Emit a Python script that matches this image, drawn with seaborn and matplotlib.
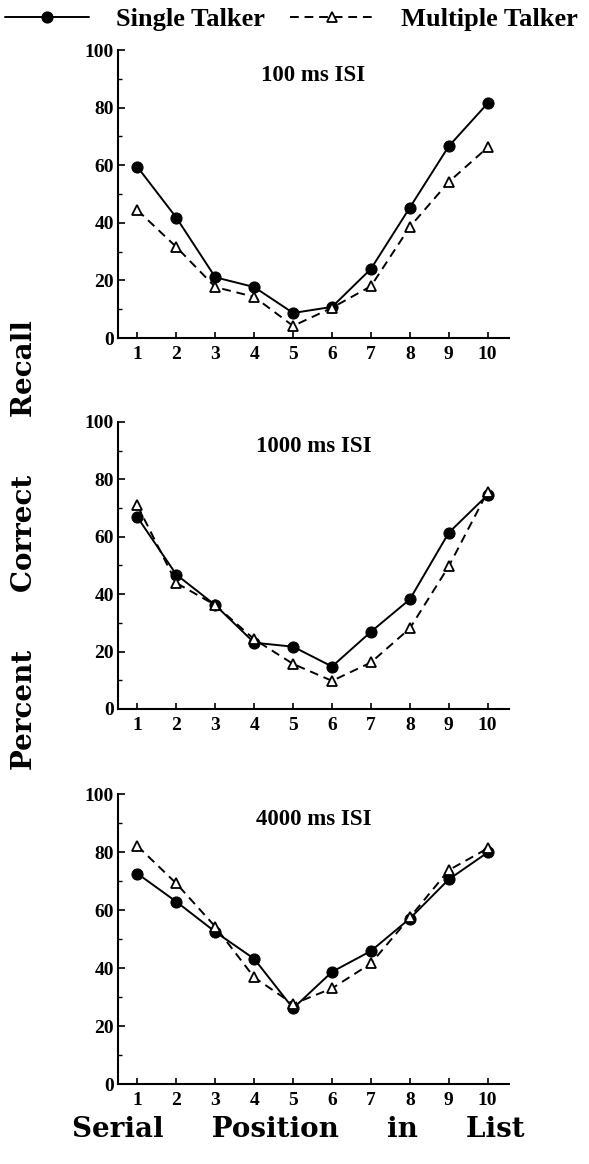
import matplotlib
matplotlib.use("Agg")
import matplotlib.pyplot as plt
import seaborn as sns
import pandas as pd
from matplotlib.ticker import MultipleLocator

# --- Data ---
POSITIONS = [1, 2, 3, 4, 5, 6, 7, 8, 9, 10]
PANEL_TITLES = ['100 ms ISI', '1000 ms ISI', '4000 ms ISI']

single_100 = [59.4, 41.8, 21.1, 17.7, 8.7, 10.8, 24.0, 45.3, 66.6, 81.5]
multi_100 = [44.4, 31.6, 17.7, 14.3, 4.2, 10.5, 18.0, 38.6, 54.2, 66.2]

single_1000 = [66.8, 46.8, 36.2, 23.1, 21.7, 14.8, 26.9, 38.2, 61.4, 74.6]
multi_1000 = [70.9, 43.9, 36.2, 24.3, 15.7, 9.8, 16.2, 28.1, 49.7, 75.7]

single_4000 = [72.6, 62.9, 52.5, 43.2, 26.1, 38.7, 45.9, 57.1, 70.6, 79.9]
multi_4000 = [82.1, 69.2, 54.3, 36.8, 27.6, 33.0, 41.6, 57.5, 73.8, 81.3]

SINGLE = [single_100, single_1000, single_4000]
MULTI = [multi_100, multi_1000, multi_4000]

# --- Style ---
sns.set_theme(style="ticks")
plt.rcParams['font.family'] = ['Liberation Serif', 'DejaVu Serif']
plt.rcParams['font.weight'] = 'bold'
plt.rcParams['text.color'] = 'black'
plt.rcParams['xtick.color'] = 'black'
plt.rcParams['ytick.color'] = 'black'
plt.rcParams['axes.labelcolor'] = 'black'

fig = plt.figure(figsize=(5.89, 11.64), dpi=100)

# axes boxes [left, bottom, width, height] in figure fractions
boxes = [
    [0.2003, 0.7096, 0.664, 0.2474],
    [0.2003, 0.3909, 0.664, 0.2466],
    [0.2003, 0.0687, 0.664, 0.2490],
]

axes = []
for i, box in enumerate(boxes):
    ax = fig.add_axes(box)
    df_s = pd.DataFrame({'pos': POSITIONS, 'recall': SINGLE[i]})
    df_m = pd.DataFrame({'pos': POSITIONS, 'recall': MULTI[i]})

    sns.lineplot(data=df_s, x='pos', y='recall', ax=ax, color='black',
                 linewidth=1.4, marker='o', markersize=8,
                 markerfacecolor='black', markeredgecolor='black',
                 errorbar=None, label='Single Talker', zorder=3)
    sns.lineplot(data=df_m, x='pos', y='recall', ax=ax, color='black',
                 linewidth=1.4, linestyle=(0, (4.5, 3)), marker='^', markersize=7.5,
                 markerfacecolor='white', markeredgecolor='black',
                 markeredgewidth=1.3, errorbar=None,
                 label='Multiple Talker', zorder=4)

    ax.set_xlim(0.5, 10.55)
    ax.set_ylim(0, 100)
    ax.set_xticks(POSITIONS)
    ax.set_yticks([0, 20, 40, 60, 80, 100])
    ax.yaxis.set_minor_locator(MultipleLocator(10))
    ax.tick_params(axis='both', which='major', direction='in', labelsize=14,
                   width=1.2, color='black', labelcolor='black')
    ax.tick_params(axis='y', which='major', length=5, pad=3)
    ax.tick_params(axis='y', which='minor', direction='in', length=3, width=1)
    ax.tick_params(axis='x', which='major', length=4, pad=6)
    for lab in ax.get_xticklabels() + ax.get_yticklabels():
        lab.set_fontweight('bold')
    sns.despine(ax=ax)
    for sp in ['left', 'bottom']:
        ax.spines[sp].set_linewidth(1.5)
        ax.spines[sp].set_color('black')
    ax.set_xlabel('')
    ax.set_ylabel('')
    ax.set_facecolor('white')
    ax.text(0.5, 0.913, PANEL_TITLES[i], transform=ax.transAxes,
            ha='center', va='center', fontsize=16.5, fontweight='bold',
            color='black')
    ax.get_legend().remove()
    axes.append(ax)

# --- Legend on top ---
handles, labels = axes[0].get_legend_handles_labels()
fig.legend(handles, labels, loc='upper left', bbox_to_anchor=(0.0085, 0.9932),
           ncol=2, frameon=False, prop={'weight': 'bold', 'size': 19},
           handlelength=3.2, handletextpad=1.0, columnspacing=0.95,
           borderpad=0.0, borderaxespad=0.0, numpoints=1)

# --- Axis labels ---
fig.text(0.042, 0.532, 'Percent      Correct      Recall', rotation=90,
         ha='center', va='center', fontsize=20, fontweight='bold',
         family='DejaVu Serif', color='black')
fig.text(0.506, 0.030, 'Serial     Position     in     List',
         ha='center', va='center', fontsize=20, fontweight='bold',
         family='DejaVu Serif', color='black')

fig.savefig('out.png', dpi=100, facecolor='white')
